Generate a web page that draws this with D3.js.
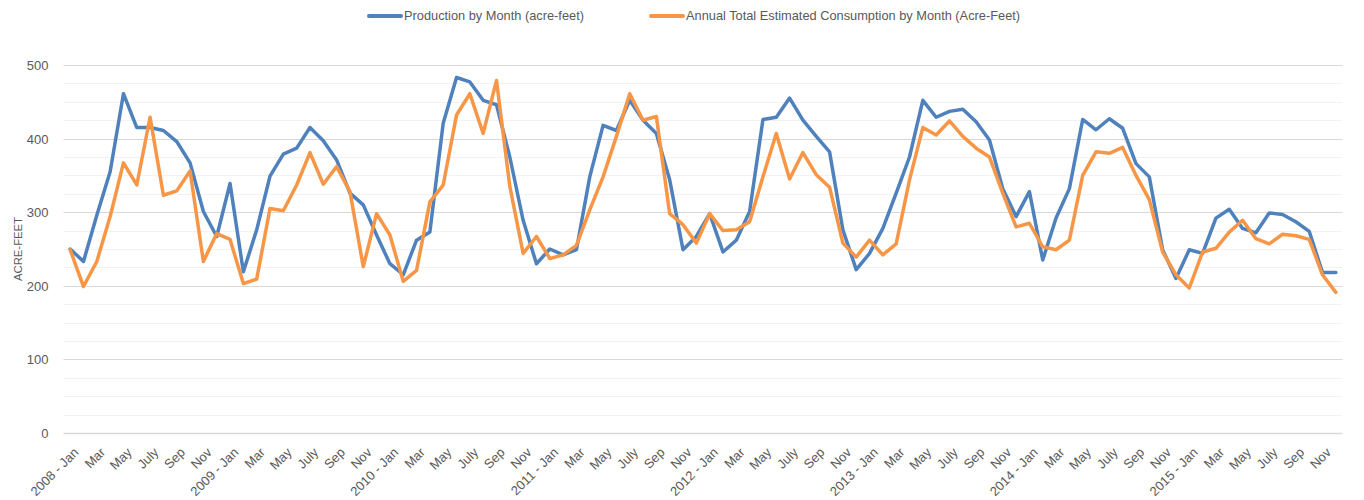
<!DOCTYPE html>
<html>
<head>
<meta charset="utf-8">
<script src="https://cdn.jsdelivr.net/npm/d3@7"></script>
<style>
  body { margin: 0; background: #fff; }
  svg text { font-family: "Liberation Sans", Arial, sans-serif; fill: #595959; }
</style>
</head>
<body>
<div id="chart"></div>
<script>
// dados (2008 - 2015, mensal)
const years = [2008, 2009, 2010, 2011, 2012, 2013, 2014, 2015];
const months = ["Jan", "Feb", "Mar", "Apr", "May", "Jun", "July", "Aug", "Sep", "Oct", "Nov", "Dec"];

const production = [
  250, 233, 296, 355, 461, 415, 415, 411, 396, 367, 301, 267,
  339, 219, 276, 349, 379, 387, 415, 397, 371, 326, 310, 269,
  230, 215, 262, 273, 421, 483, 477, 452, 446, 375, 289, 230,
  250, 242, 249, 348, 418, 411, 452, 425, 407, 344, 249, 267,
  298, 246, 262, 301, 426, 429, 455, 425, 403, 382, 276, 222,
  244, 278, 326, 375, 452, 429, 437, 440, 423, 398, 332, 294,
  328, 235, 292, 332, 426, 412, 427, 414, 366, 348, 249, 210,
  249, 244, 292, 304, 278, 272, 299, 297, 287, 274, 218, 218
];
const consumption = [
  249, 199, 233, 294, 367, 337, 429, 323, 329, 356, 233, 271,
  263, 203, 209, 305, 302, 337, 381, 338, 362, 328, 226, 298,
  269, 206, 221, 314, 337, 432, 461, 407, 479, 335, 244, 267,
  237, 242, 255, 303, 348, 403, 461, 425, 430, 298, 283, 258,
  298, 275, 276, 287, 348, 407, 345, 381, 351, 334, 258, 239,
  262, 242, 257, 344, 415, 405, 424, 403, 387, 375, 326, 280,
  285, 253, 249, 262, 350, 382, 380, 388, 350, 317, 246, 215,
  197, 246, 251, 273, 289, 264, 257, 270, 268, 263, 215, 191
];
const seriesNames = ["Production by Month (acre-feet)", "Annual Total Estimated Consumption by Month (Acre-Feet)"];
const seriesColors = ["#4f81bd", "#f79646"];
const yTicks = [0, 100, 200, 300, 400, 500];

const width = 1364, height = 500;
const margin = { top: 65, right: 21.5, bottom: 67, left: 63.5 };

// rótulos das categorias
const labels = [];
years.forEach(yr => months.forEach((m, i) => labels.push(i === 0 ? `${yr} - ${m}` : m)));

const svg = d3.select("#chart").append("svg")
  .attr("width", width)
  .attr("height", height);

const x = d3.scaleBand()
  .domain(d3.range(labels.length))
  .range([margin.left, width - margin.right]);
const xc = i => x(i) + x.bandwidth() / 2;

const y = d3.scaleLinear()
  .domain([0, 500])
  .range([height - margin.bottom, margin.top]);

// linhas de grade secundárias (a cada 25)
svg.append("g")
  .selectAll("line")
  .data(d3.range(25, 500, 25).filter(v => v % 100 !== 0))
  .enter().append("line")
  .attr("x1", margin.left).attr("x2", width - margin.right)
  .attr("y1", d => Math.round(y(d)) + 0.5).attr("y2", d => Math.round(y(d)) + 0.5)
  .attr("stroke", "#f2f2f2");

// linhas de grade principais
svg.append("g")
  .selectAll("line")
  .data(yTicks)
  .enter().append("line")
  .attr("x1", margin.left).attr("x2", width - margin.right)
  .attr("y1", d => Math.round(y(d)) + 0.5).attr("y2", d => Math.round(y(d)) + 0.5)
  .attr("stroke", "#d9d9d9")
  .attr("stroke-width", d => d === 0 ? 1.5 : 1);

// eixo Y
const yAxis = svg.append("g")
  .attr("transform", `translate(${margin.left - 12},0)`)
  .call(d3.axisLeft(y).tickValues(yTicks).tickSize(0));
yAxis.select(".domain").remove();
yAxis.selectAll("text").style("font-size", "13px").attr("dy", "0.35em");

svg.append("text")
  .attr("transform", `translate(22,${y(250)}) rotate(-90)`)
  .attr("text-anchor", "middle")
  .style("font-size", "11.3px")
  .text("ACRE-FEET");

// eixo X
const xAxis = svg.append("g")
  .attr("transform", `translate(0,${height - margin.bottom})`)
  .call(d3.axisBottom(x)
    .tickValues(d3.range(0, labels.length, 2))
    .tickFormat(i => labels[i])
    .tickSize(0));
xAxis.select(".domain").remove();
xAxis.selectAll("text")
  .style("font-size", "13px")
  .attr("text-anchor", "end")
  .attr("transform", "translate(6,17) rotate(-45)")
  .attr("dy", "0.35em")
  .attr("y", 0);

// linhas das séries
const line = d3.line()
  .x((d, i) => xc(i))
  .y(d => y(d));

[production, consumption].forEach((serie, k) => {
  svg.append("path")
    .datum(serie)
    .attr("fill", "none")
    .attr("stroke", seriesColors[k])
    .attr("stroke-width", 3.5)
    .attr("stroke-linejoin", "round")
    .attr("stroke-linecap", "round")
    .attr("d", line);
});

// legenda
const legendX = [369, 651];
seriesNames.forEach((name, k) => {
  const g = svg.append("g").attr("transform", `translate(${legendX[k]},16)`);
  g.append("line")
    .attr("x1", 0).attr("x2", 32)
    .attr("stroke", seriesColors[k])
    .attr("stroke-width", 4)
    .attr("stroke-linecap", "round");
  g.append("text")
    .attr("x", 35)
    .attr("dy", "0.35em")
    .style("font-size", "12.8px")
    .text(name);
});
</script>
</body>
</html>
